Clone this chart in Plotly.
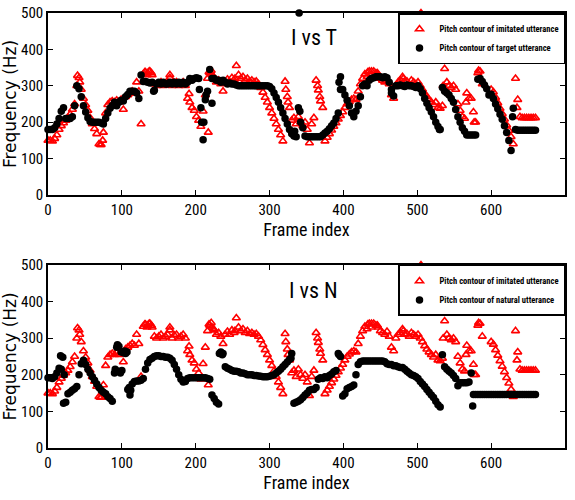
import plotly.graph_objects as go

# ---------------- data (frame index sampled every 3 frames) ----------------
FRAMES = list(range(0, 661, 3))

# Pitch contour of imitated utterance (Hz) - same in both panels
IMITATED = [
    150, 150, 148, 155, 165, 180, 190, 198, 205, 212,
    222, 235, 250, 300, 322, 290, 265, 248, 232, 212,
    195, 182, 168, 140, 138, 172, 225, 248, 255, 258,
    255, 260, 255, 262, 235, 270, 275, 280, 285, 280,
    310, 285, 195, 332, 338, 335, 340, 330, 305, 300,
    305, 310, 300, 305, 310, 322, 300, 308, 310, 300,
    305, 310, 300, 265, 255, 240, 232, 215, 205, 188,
    230, 275, 320, 335, 330, 322, 310, 315, 305, 285,
    310, 318, 310, 322, 315, 355, 330, 320, 325, 315,
    320, 312, 315, 310, 312, 305, 295, 282, 268, 255,
    240, 225, 210, 195, 180, 165, 148, 312, 270, 240,
    205, 212, 195, 215, 200, 190, 200, 180, 143, 195,
    212, 315, 288, 258, 240, 148, 158, 168, 178, 188,
    198, 208, 218, 228, 240, 250, 256, 262, 265, 262,
    285, 305, 320, 332, 325, 340, 330, 340, 335, 330,
    320, 315, 310, 318, 305, 275, 265, 300, 310, 315,
    325, 310, 312, 305, 315, 310, 305, 310, 300, 290,
    279, 270, 262, 255, 248, 255, 240, 238, 245, 347,
    310, 300, 295, 300, 290, 250, 232, 215, 210, 280,
    265, 265, 228, 200, 335, 340, 305, None, None, None,
    290, 283, 268, 253, 238, 223, 208, 192, 177, 160,
    140, 320, 262, 215, 212, 212, 212, 212, 212, 212,
    212,
]
IMITATED_EXTRA_FRAMES = [505, 40, 43, 71, 74, 131, 134, 137, 140, 165, 218, 221, 224, 253,
                         322, 325, 365, 368, 433, 438, 446, 481, 535, 566, 577, 583, 635, 191, 217]
IMITATED_EXTRA_HZ = [500, 328, 310, 138, 150, 338, 330, 340, 335, 330, 338, 342, 325, 320,
                     290, 255, 300, 270, 338, 340, 335, 320, 300, 255, 200, 342, 240, 278, 172]

# Pitch contour of target utterance (Hz) - top panel
TARGET = [
    180, 180, 180, 185, 195, 210, 230, 240, 210, 210,
    210, 215, 245, 300, 292, 270, 245, 228, 212, 202,
    200, 200, 200, 200, 198, 195, 210, 225, 238, 245,
    255, 245, 255, 260, 258, 270, 276, 285, 285, 285,
    280, 265, 330, 312, 312, 310, 308, 310, 288, 305,
    310, 305, 310, 305, 305, 310, 305, 310, 305, 310,
    305, 310, 305, 310, 320, 315, 320, 322, 320, 240,
    152, 262, 285, 345, 320, 320, 315, 315, 310, 315,
    310, 305, 308, 305, 305, 302, 300, 300, 300, 300,
    300, 300, 300, 300, 300, 300, 300, 300, 300, 300,
    298, 292, 280, 268, 255, 240, 225, 210, 195, 180,
    168, 162, 160, 240, 200, 185, 162, 160, 160, 160,
    160, 160, 160, 160, 165, 170, 175, 182, 190, 198,
    210, 225, 325, 290, 275, 260, 245, 225, 215, 230,
    245, 270, 300, 305, 300, 315, 320, 322, 325, 325,
    325, 322, 325, 322, 310, 290, 272, 300, 300, 302,
    300, 298, 302, 300, 300, 298, 295, 300, 292, 280,
    265, 252, 240, 228, 215, 200, 188, 180, 295, 285,
    280, 275, 265, 255, 235, 215, 200, 185, 175, 165,
    165, 165, 165, 165, 318, 320, 312, 302, 292, 275,
    277, 265, 250, 237, 222, 208, 190, 172, 150, 122,
    238, 180, 178, 178, 178, 178, 178, 178, 178, 178,
    178,
]
TARGET_EXTRA_FRAMES = [340, 143, 205, 208, 211, 214, 222, 334, 341, 394, 396, 465, 530, 629]
TARGET_EXTRA_HZ = [500, 285, 290, 200, 200, 275, 252, 175, 230, 310, 290, 280, 180, 215]

# Pitch contour of natural utterance (Hz) - bottom panel
NATURAL = [
    192, 192, 190, 195, 205, 218, 215, 122, 125, 148,
    152, 158, 162, 168, 200, 230, 240, 228, 215, 205,
    195, 185, 175, 165, 158, 152, 148, 140, 135, 128,
    205, 275, 278, 262, 260, 258, 160, 145, 175, 182,
    183, 183, 185, 190, 215, 232, 242, 245, 250, 252,
    252, 250, 250, 248, 248, 245, 240, 228, 215, 200,
    188, 180, 182, 190, 192, 192, 192, 192, 192, 192,
    192, 192, 190, 188, 145, 135, 125, 120, 262, 258,
    222, 218, 215, 212, 210, 210, 208, 205, 205, 203,
    200, 200, 200, 198, 198, 197, 196, 195, 195, 195,
    196, 198, 200, 205, 210, 215, 222, 228, 235, 242,
    258, 122, 125, 128, 132, 138, 145, 150, 158, 160,
    160, 165, 188, 192, 190, 195, 192, 198, 202, 208,
    212, 258, 250, 142, 148, 162, 165, 168, 172, 200,
    228, 236, 238, 238, 238, 238, 238, 238, 238, 238,
    238, 238, 236, 230, 228, 228, 225, 225, 222, 220,
    220, 215, 210, 205, 200, 198, 195, 190, 182, 175,
    168, 160, 152, 145, 138, 128, 118, 112, 255, 222,
    215, 210, 205, 198, 190, 170, 178, 178, 178, 178,
    180, 205, 146, 146, 146, 146, 146, 146, 146, 146,
    146, 146, 146, 146, 146, 146, 146, 146, 146, 146,
    146, 146, 146, 146, 146, 146, 146, 146, 146, 146,
    146,
]
NATURAL_EXTRA_FRAMES = [17, 20, 22, 91, 94, 95, 98, 100, 104, 107, 110, 112, 575, 232, 236, 329, 394]
NATURAL_EXTRA_HZ = [252, 248, 200, 215, 282, 210, 205, 212, 265, 262, 165, 158, 115, 258, 255, 245, 255]

X_TICKS = [0, 100, 200, 300, 400, 500, 600, 700]
Y_TICKS = [0, 100, 200, 300, 400, 500]

LABEL_IMITATED = "Pitch contour of imitated utterance"
LABEL_TARGET = "Pitch contour of target utterance"
LABEL_NATURAL = "Pitch contour of natural utterance"

# ---------------- figure ----------------
NARROW = "Liberation Sans Narrow, Arial Narrow, Roboto Condensed, sans-serif"

red_marker = dict(symbol="triangle-up-open", size=7, color="#ff0000", line=dict(width=1.6, color="#ff0000"))
blk_marker = dict(symbol="circle", size=7.5, color="black", line=dict(width=0))

fig = go.Figure()

def add_pair(xa, ya, black_y, black_xe, black_ye, black_name, legend):
    fig.add_trace(go.Scatter(
        x=FRAMES + IMITATED_EXTRA_FRAMES, y=IMITATED + IMITATED_EXTRA_HZ,
        mode="markers", marker=red_marker, name=LABEL_IMITATED,
        xaxis=xa, yaxis=ya, legend=legend, cliponaxis=False))
    fig.add_trace(go.Scatter(
        x=FRAMES + black_xe, y=black_y + black_ye,
        mode="markers", marker=blk_marker, name=black_name,
        xaxis=xa, yaxis=ya, legend=legend, cliponaxis=False))

add_pair("x", "y", TARGET, TARGET_EXTRA_FRAMES, TARGET_EXTRA_HZ, LABEL_TARGET, "legend")
add_pair("x2", "y2", NATURAL, NATURAL_EXTRA_FRAMES, NATURAL_EXTRA_HZ, LABEL_NATURAL, "legend2")

axis_common = dict(
    showline=True, linecolor="black", linewidth=1.5, mirror="allticks",
    ticks="inside", ticklen=5, tickwidth=1, tickcolor="black",
    showgrid=False, zeroline=False, automargin=False,
    tickfont=dict(family=NARROW, size=15, color="black"),
)
xcommon = dict(axis_common, range=[0, 700], tickvals=X_TICKS,
               title=dict(text="Frame index", font=dict(family=NARROW, size=18, color="black"), standoff=5))
ycommon = dict(axis_common, range=[0, 500], tickvals=Y_TICKS,
               title=dict(text="Frequency (Hz)", font=dict(family="DejaVu Sans", size=17, color="black"), standoff=3))

legend_common = dict(
    x=1, xanchor="right", xref="paper", yanchor="top", yref="paper",
    bgcolor="white", bordercolor="black", borderwidth=1.5,
    font=dict(family=NARROW, size=8.5, color="black", weight="bold"),
    itemwidth=30, tracegroupgap=0, itemsizing="trace",
)

top_dom = [0.5816, 1.0]
bot_dom = [0.0, 0.4207]

fig.update_layout(
    width=575, height=500,
    margin=dict(l=48, r=10, t=13, b=52, autoexpand=False),
    paper_bgcolor="white", plot_bgcolor="white",
    xaxis=dict(xcommon, domain=[0, 1], anchor="y"),
    yaxis=dict(ycommon, domain=top_dom, anchor="x"),
    xaxis2=dict(xcommon, domain=[0, 1], anchor="y2"),
    yaxis2=dict(ycommon, domain=bot_dom, anchor="x2"),
    legend=dict(legend_common, y=top_dom[1]),
    legend2=dict(legend_common, y=bot_dom[1]),
    showlegend=True,
    annotations=[
        dict(text="I vs T", x=360, y=432, xref="x", yref="y", showarrow=False,
             font=dict(family=NARROW, size=22, color="black")),
        dict(text="I vs N", x=360, y=430, xref="x2", yref="y2", showarrow=False,
             font=dict(family=NARROW, size=22, color="black")),
    ],
)

# remove the browser's default 8 px page margin so the figure fills the window
fig.write_html(
    "out.html",
    config={"displayModeBar": False},
    post_script="document.body.style.margin='0';document.body.style.overflow='hidden';",
)
